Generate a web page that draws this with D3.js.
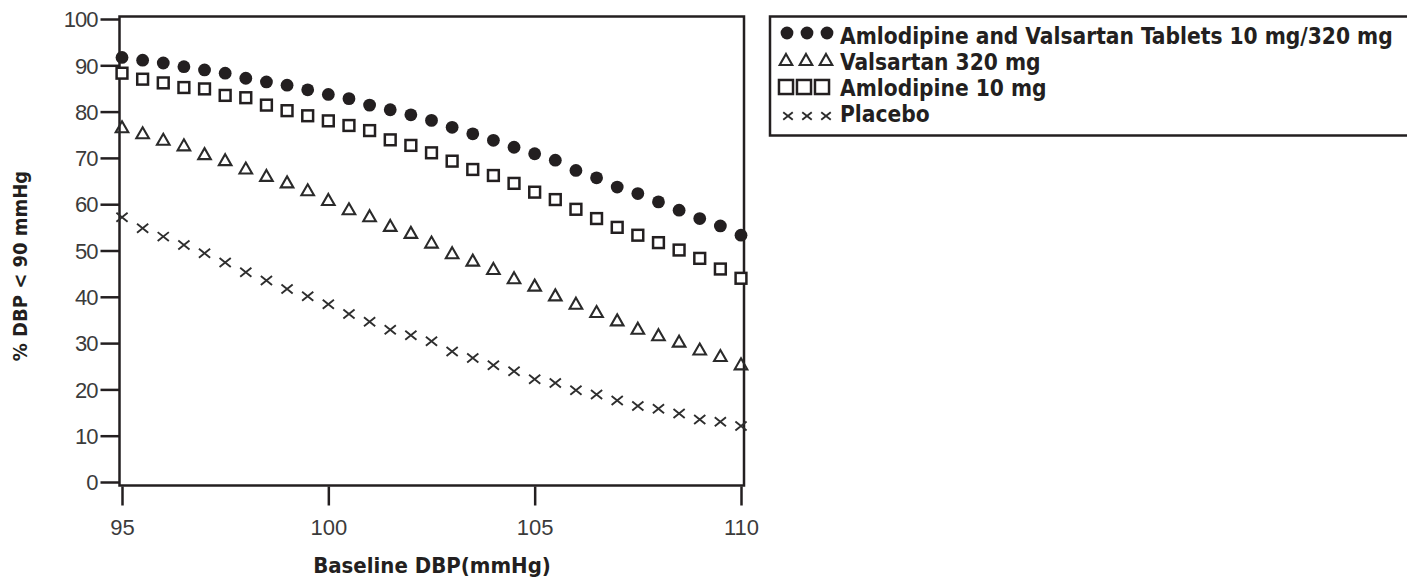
<!DOCTYPE html>
<html>
<head>
<meta charset="utf-8">
<script src="https://cdn.jsdelivr.net/npm/d3@7"></script>
<style>
  html, body { margin: 0; padding: 0; background: #fff; }
  svg { display: block; }
</style>
</head>
<body>
<svg id="chart" width="1407" height="579"></svg>
<script>
// ---------- DATA ----------
const baselineDBP = [95, 95.5, 96, 96.5, 97, 97.5, 98, 98.5, 99, 99.5, 100, 100.5, 101, 101.5, 102, 102.5,
  103, 103.5, 104, 104.5, 105, 105.5, 106, 106.5, 107, 107.5, 108, 108.5, 109, 109.5, 110];

const combo = [91.7, 91.1, 90.5, 89.7, 89.0, 88.3, 87.2, 86.4, 85.7, 84.7, 83.7, 82.8, 81.4, 80.4, 79.3, 78.1,
  76.6, 75.2, 73.8, 72.3, 70.9, 69.5, 67.3, 65.7, 63.7, 62.3, 60.5, 58.7, 56.9, 55.3, 53.3];

const valsartan = [76.6, 75.3, 73.9, 72.7, 70.8, 69.5, 67.7, 66.1, 64.7, 63.0, 60.9, 58.9, 57.4, 55.3, 53.8, 51.7,
  49.4, 47.8, 46.0, 44.0, 42.4, 40.3, 38.5, 36.7, 34.9, 33.1, 31.7, 30.3, 28.6, 27.2, 25.4];

const amlodipine = [88.3, 87.0, 86.2, 85.2, 84.9, 83.5, 83.0, 81.4, 80.2, 79.1, 78.0, 77.0, 75.9, 73.9, 72.7, 71.1,
  69.3, 67.5, 66.2, 64.5, 62.6, 61.0, 58.9, 56.9, 55.0, 53.3, 51.7, 50.1, 48.3, 46.0, 44.0];

const placebo = [57.2, 54.8, 53.0, 51.2, 49.4, 47.4, 45.3, 43.5, 41.7, 40.1, 38.4, 36.3, 34.6, 32.9, 31.7, 30.4,
  28.2, 26.8, 25.2, 23.9, 22.2, 21.4, 19.8, 18.9, 17.6, 16.4, 15.8, 14.8, 13.5, 13.0, 12.1];

const seriesNames = ["Amlodipine and Valsartan Tablets 10 mg/320 mg", "Valsartan 320 mg", "Amlodipine 10 mg", "Placebo"];
const seriesKeys = ["circle", "triangle", "square", "cross"];
const xTicks = [95, 100, 105, 110];
const yTicks = [0, 10, 20, 30, 40, 50, 60, 70, 80, 90, 100];
const xTitle = "Baseline DBP(mmHg)";
const yTitle = "% DBP < 90 mmHg";

// ---------- LAYOUT ----------
const svg = d3.select("#chart");
const frame = { left: 119.5, right: 744, top: 16.5, bottom: 485.5 };
const x = d3.scaleLinear().domain([95, 110]).range([122, 741]);
const y = d3.scaleLinear().domain([0, 100]).range([482, 19]);

const ink = "#231f20";
const labelInk = "#3b3b3b";
const boldFont = "'Liberation Sans Narrow', 'Arial Narrow', 'DejaVu Sans Condensed', 'DejaVu Sans', sans-serif";
const regFont = "'Liberation Sans', Arial, Helvetica, sans-serif";

// fit a text to a target width by adjusting its font size (capped)
function fitSize(sel, width, maxSize) {
  sel.attr("font-size", maxSize);
  const w = sel.node().getComputedTextLength();
  if (w > width) sel.attr("font-size", (maxSize * width / w).toFixed(2));
  return sel;
}

// frame
svg.append("rect")
  .attr("x", frame.left).attr("y", frame.top)
  .attr("width", frame.right - frame.left).attr("height", frame.bottom - frame.top)
  .attr("fill", "none").attr("stroke", ink).attr("stroke-width", 2.5);

// y axis
const yAxis = svg.append("g")
  .attr("transform", `translate(${frame.left},0)`)
  .call(d3.axisLeft(y).tickValues(yTicks).tickSize(19).tickPadding(3).tickFormat(d3.format("d")));
yAxis.select(".domain").remove();
yAxis.selectAll(".tick line").attr("stroke", ink).attr("stroke-width", 2.5);
yAxis.selectAll(".tick text")
  .attr("fill", labelInk).attr("font-family", regFont).attr("font-size", 22)
  .attr("letter-spacing", -1).attr("dy", "0.35em");

// x axis
const xAxis = svg.append("g")
  .attr("transform", `translate(0,${frame.bottom + 1})`)
  .call(d3.axisBottom(x).tickValues(xTicks).tickSize(19).tickFormat(d3.format("d")));
xAxis.select(".domain").remove();
xAxis.selectAll(".tick line").attr("stroke", ink).attr("stroke-width", 2.5);
xAxis.selectAll(".tick text")
  .attr("fill", labelInk).attr("font-family", regFont).attr("font-size", 22)
  .attr("y", 41).attr("dy", "0.35em");

// axis titles
const xt = svg.append("text")
  .attr("x", 432).attr("y", 565).attr("dy", "0.35em")
  .attr("text-anchor", "middle")
  .attr("font-family", boldFont).attr("font-weight", "bold").attr("font-stretch", "condensed")
  .attr("fill", ink).text(xTitle);
fitSize(xt, 270, 22);

const yt = svg.append("text")
  .attr("transform", "translate(20,266) rotate(-90)")
  .attr("dy", "0.35em")
  .attr("text-anchor", "middle")
  .attr("font-family", boldFont).attr("font-weight", "bold").attr("font-stretch", "condensed")
  .attr("fill", ink).text(yTitle);
fitSize(yt, 212, 20);

// ---------- MARKERS ----------
function drawMarker(g, kind, cx, cy, scale) {
  const s = scale || 1;
  if (kind === "circle") {
    g.append("circle").attr("cx", cx).attr("cy", cy).attr("r", 6.4 * s).attr("fill", ink);
  } else if (kind === "square") {
    const h = 5.4 * s;
    g.append("rect").attr("x", cx - h).attr("y", cy - h).attr("width", 2 * h).attr("height", 2 * h)
      .attr("fill", "#fff").attr("stroke", ink).attr("stroke-width", 2.5);
  } else if (kind === "triangle") {
    const w = 6.3 * s, hgt = 11 * s;
    const p = d3.path();
    p.moveTo(cx, cy - hgt * 0.55);
    p.lineTo(cx + w, cy + hgt * 0.45);
    p.lineTo(cx - w, cy + hgt * 0.45);
    p.closePath();
    g.append("path").attr("d", p.toString()).attr("fill", "none")
      .attr("stroke", "#2a2a2a").attr("stroke-width", 2.1).attr("stroke-linejoin", "miter");
  } else if (kind === "cross") {
    const h = 5.6 * s;
    const p = d3.path();
    p.moveTo(cx - h, cy - h * 0.8); p.lineTo(cx + h, cy + h * 0.8);
    p.moveTo(cx - h, cy + h * 0.8); p.lineTo(cx + h, cy - h * 0.8);
    g.append("path").attr("d", p.toString()).attr("fill", "none")
      .attr("stroke", "#2e2e2e").attr("stroke-width", 1.9);
  }
}

const allSeries = [combo, valsartan, amlodipine, placebo];
const plotG = svg.append("g");
// draw so that filled circles sit over squares
[placebo, valsartan, amlodipine, combo].forEach(vals => {
  const idx = allSeries.indexOf(vals);
  const g = plotG.append("g").attr("class", "series-" + seriesKeys[idx]);
  vals.forEach((v, i) => drawMarker(g, seriesKeys[idx], x(baselineDBP[i]), y(v)));
});

// ---------- LEGEND ----------
const legend = svg.append("g");
legend.append("path")
  .attr("d", "M1407,16.5 H770 V135.5 H1407")
  .attr("fill", "none").attr("stroke", ink).attr("stroke-width", 2.5);

const rowY = [36, 62, 88, 114];
const markerOffsetY = [-3, -2, -1, 2];
const markerXs = [[787, 807, 827], [786, 806, 826], [786, 804, 822], [788, 807, 826]];
const markerScale = [1, 1.0, 1.3, 0.85];
const legendTexts = seriesNames.map((name, i) => {
  markerXs[i].forEach(mx => drawMarker(legend, seriesKeys[i], mx, rowY[i] + markerOffsetY[i], markerScale[i]));
  return legend.append("text")
    .attr("x", 840).attr("y", rowY[i]).attr("dy", "0.35em")
    .attr("font-family", boldFont).attr("font-weight", "bold").attr("font-stretch", "condensed")
    .attr("fill", ink).text(name);
});
// size all legend lines alike, so the longest one ends where the reference's does
fitSize(legendTexts[0], 553, 24);
const legendSize = legendTexts[0].attr("font-size");
legendTexts.forEach(t => t.attr("font-size", legendSize));
</script>
</body>
</html>
